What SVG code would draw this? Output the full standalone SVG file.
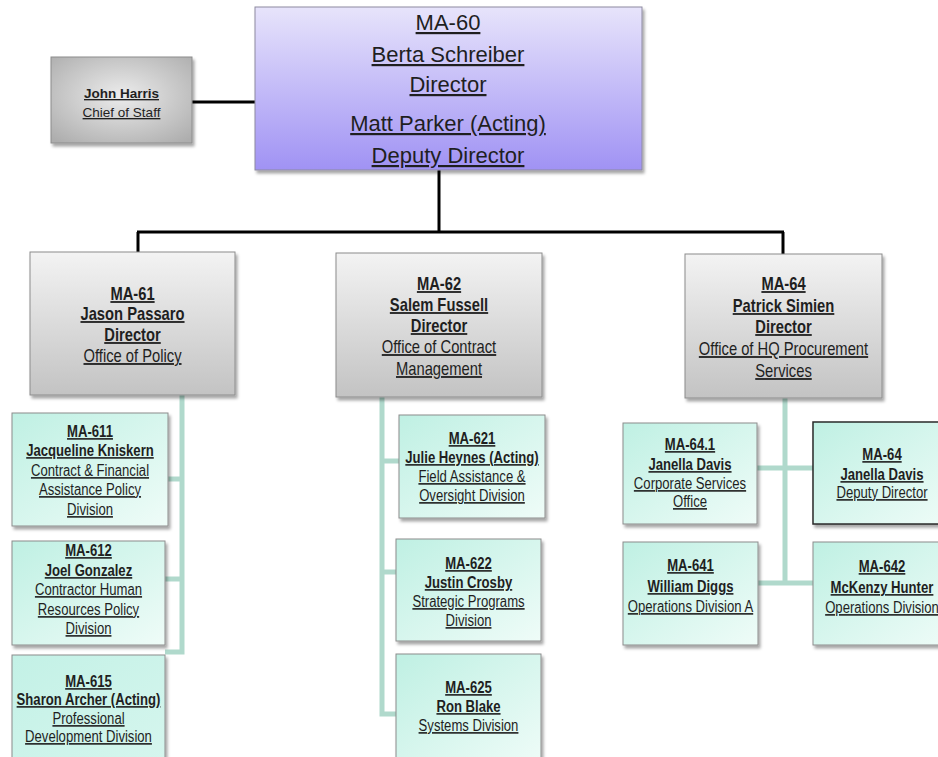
<svg xmlns="http://www.w3.org/2000/svg" width="938" height="757" viewBox="0 0 938 757">
<defs>
<linearGradient id="gTop" x1="0" y1="0" x2="0" y2="1">
<stop offset="0" stop-color="#e7e4fb"/><stop offset="1" stop-color="#a092f4"/>
</linearGradient>
<linearGradient id="gGray" x1="0" y1="0" x2="0" y2="1">
<stop offset="0" stop-color="#f3f3f3"/><stop offset="1" stop-color="#c3c3c3"/>
</linearGradient>
<radialGradient id="gJH" cx="0.5" cy="0.45" r="0.7">
<stop offset="0" stop-color="#ececec"/><stop offset="1" stop-color="#adadad"/>
</radialGradient>
<linearGradient id="gTeal" x1="0" y1="0" x2="1" y2="1">
<stop offset="0" stop-color="#bff0e3"/><stop offset="1" stop-color="#effcf8"/>
</linearGradient>
<linearGradient id="gTeal2" x1="0" y1="0" x2="1" y2="1">
<stop offset="0" stop-color="#c3f1e6"/><stop offset="1" stop-color="#d6f6ee"/>
</linearGradient>
<filter id="sh" x="-10%" y="-10%" width="125%" height="130%">
<feDropShadow dx="2" dy="3" stdDeviation="1.5" flood-color="#000" flood-opacity="0.35"/>
</filter>
</defs>
<style>
.box{stroke:#8c8c8c;stroke-width:1;filter:url(#sh)}
.top{fill:url(#gTop);stroke:#8d8aa0}
.gray{fill:url(#gGray)}
.jh{fill:url(#gJH)}
.teal{fill:url(#gTeal)}
.teal2{fill:url(#gTeal2)}
.dark{stroke:#2a2a2a;stroke-width:1.5}
text{fill:#1f1f1f;text-anchor:middle;text-decoration:underline;font-family:"Liberation Sans",Arial,sans-serif}
.f22{font-size:22px}
.f18{font-size:18px}
.f16{font-size:16px}
.f13{font-size:13.5px}
.b{font-weight:bold}
.blk{stroke:#000;stroke-width:3;fill:none}
.tl{stroke:#b0d9cc;stroke-width:5;fill:none}
</style>

<g id="connectors">
<path class="blk" d="M192,102 H255"/>
<path class="blk" d="M439,170 V232"/>
<path class="blk" d="M137,232 H784"/>
<path class="blk" d="M138,232 V252"/>
<path class="blk" d="M783,232 V254"/>
<path class="tl" d="M182,395 V652 H165"/>
<path class="tl" d="M168,479 H182"/>
<path class="tl" d="M165,579 H182"/>
<path class="tl" d="M382,397 V714 H396"/>
<path class="tl" d="M382,461 H399"/>
<path class="tl" d="M382,572 H396"/>
<path class="tl" d="M785,398 V583"/>
<path class="tl" d="M757,468 H813"/>
<path class="tl" d="M758,583 H813"/>
</g>

<g id="ma60">
<rect class="box top" x="255" y="7" width="387" height="163"/>
<text class="f22" x="448" y="30">MA-60</text>
<text class="f22" x="448" y="62">Berta Schreiber</text>
<text class="f22" x="448" y="92">Director</text>
<text class="f22" x="448" y="131">Matt Parker (Acting)</text>
<text class="f22" x="448" y="163">Deputy Director</text>
</g>

<g id="john-harris">
<rect class="box jh" x="51" y="57" width="141" height="86"/>
<text class="f13 b" x="121.5" y="98">John Harris</text>
<text class="f13" x="121.5" y="117">Chief of Staff</text>
</g>

<g id="ma61">
<rect class="box gray" x="30" y="252" width="205" height="143"/>
<g transform="translate(132.5,0) scale(0.82,1)">
<text class="f18 b" x="0" y="300">MA-61</text>
<text class="f18 b" x="0" y="320">Jason Passaro</text>
<text class="f18 b" x="0" y="341">Director</text>
<text class="f18" x="0" y="362">Office of Policy</text>
</g>
</g>

<g id="ma62">
<rect class="box gray" x="336" y="253" width="206" height="144"/>
<g transform="translate(439,0) scale(0.82,1)">
<text class="f18 b" x="0" y="290">MA-62</text>
<text class="f18 b" x="0" y="311">Salem Fussell</text>
<text class="f18 b" x="0" y="332">Director</text>
<text class="f18" x="0" y="353">Office of Contract</text>
<text class="f18" x="0" y="375">Management</text>
</g>
</g>

<g id="ma64">
<rect class="box gray" x="685" y="254" width="197" height="144"/>
<g transform="translate(783.5,0) scale(0.82,1)">
<text class="f18 b" x="0" y="290">MA-64</text>
<text class="f18 b" x="0" y="312">Patrick Simien</text>
<text class="f18 b" x="0" y="333">Director</text>
<text class="f18" x="0" y="355">Office of HQ Procurement</text>
<text class="f18" x="0" y="377">Services</text>
</g>
</g>

<g id="ma611">
<rect class="box teal" x="12" y="413" width="156" height="113"/>
<g transform="translate(90,0) scale(0.82,1)">
<text class="f16 b" x="0" y="437">MA-611</text>
<text class="f16 b" x="0" y="456">Jacqueline Kniskern</text>
<text class="f16" x="0" y="476">Contract &amp; Financial</text>
<text class="f16" x="0" y="495">Assistance Policy</text>
<text class="f16" x="0" y="515">Division</text>
</g>
</g>

<g id="ma612">
<rect class="box teal" x="12" y="541" width="153" height="104"/>
<g transform="translate(88.5,0) scale(0.82,1)">
<text class="f16 b" x="0" y="556">MA-612</text>
<text class="f16 b" x="0" y="576">Joel Gonzalez</text>
<text class="f16" x="0" y="595">Contractor Human</text>
<text class="f16" x="0" y="615">Resources Policy</text>
<text class="f16" x="0" y="634">Division</text>
</g>
</g>

<g id="ma615">
<rect class="box teal2" x="12" y="655" width="153" height="112"/>
<g transform="translate(88.5,0) scale(0.82,1)">
<text class="f16 b" x="0" y="687">MA-615</text>
<text class="f16 b" x="0" y="705">Sharon Archer (Acting)</text>
<text class="f16" x="0" y="724">Professional</text>
<text class="f16" x="0" y="742">Development Division</text>
</g>
</g>

<g id="ma621">
<rect class="box teal" x="399" y="415" width="146" height="103"/>
<g transform="translate(472,0) scale(0.82,1)">
<text class="f16 b" x="0" y="444">MA-621</text>
<text class="f16 b" x="0" y="463">Julie Heynes (Acting)</text>
<text class="f16" x="0" y="482">Field Assistance &amp;</text>
<text class="f16" x="0" y="501">Oversight Division</text>
</g>
</g>

<g id="ma622">
<rect class="box teal" x="396" y="539" width="145" height="102"/>
<g transform="translate(468.5,0) scale(0.82,1)">
<text class="f16 b" x="0" y="569">MA-622</text>
<text class="f16 b" x="0" y="588">Justin Crosby</text>
<text class="f16" x="0" y="607">Strategic Programs</text>
<text class="f16" x="0" y="626">Division</text>
</g>
</g>

<g id="ma625">
<rect class="box teal" x="396" y="654" width="145" height="112"/>
<g transform="translate(468.5,0) scale(0.82,1)">
<text class="f16 b" x="0" y="693">MA-625</text>
<text class="f16 b" x="0" y="712">Ron Blake</text>
<text class="f16" x="0" y="731">Systems Division</text>
</g>
</g>

<g id="ma64-1">
<rect class="box teal" x="623" y="423" width="134" height="101"/>
<g transform="translate(690,0) scale(0.82,1)">
<text class="f16 b" x="0" y="450">MA-64.1</text>
<text class="f16 b" x="0" y="470">Janella Davis</text>
<text class="f16" x="0" y="489">Corporate Services</text>
<text class="f16" x="0" y="507">Office</text>
</g>
</g>

<g id="ma64-deputy">
<rect class="box teal dark" x="813" y="422" width="140" height="102"/>
<g transform="translate(882,0) scale(0.82,1)">
<text class="f16 b" x="0" y="460">MA-64</text>
<text class="f16 b" x="0" y="480">Janella Davis</text>
<text class="f16" x="0" y="498">Deputy Director</text>
</g>
</g>

<g id="ma641">
<rect class="box teal" x="623" y="542" width="135" height="103"/>
<g transform="translate(690.5,0) scale(0.82,1)">
<text class="f16 b" x="0" y="571">MA-641</text>
<text class="f16 b" x="0" y="592">William Diggs</text>
<text class="f16" x="0" y="612">Operations Division A</text>
</g>
</g>

<g id="ma642">
<rect class="box teal" x="813" y="542" width="140" height="103"/>
<g transform="translate(882,0) scale(0.82,1)">
<text class="f16 b" x="0" y="572">MA-642</text>
<text class="f16 b" x="0" y="593">McKenzy Hunter</text>
<text class="f16" x="0" y="613">Operations Division</text>
</g>
</g>
</svg>
